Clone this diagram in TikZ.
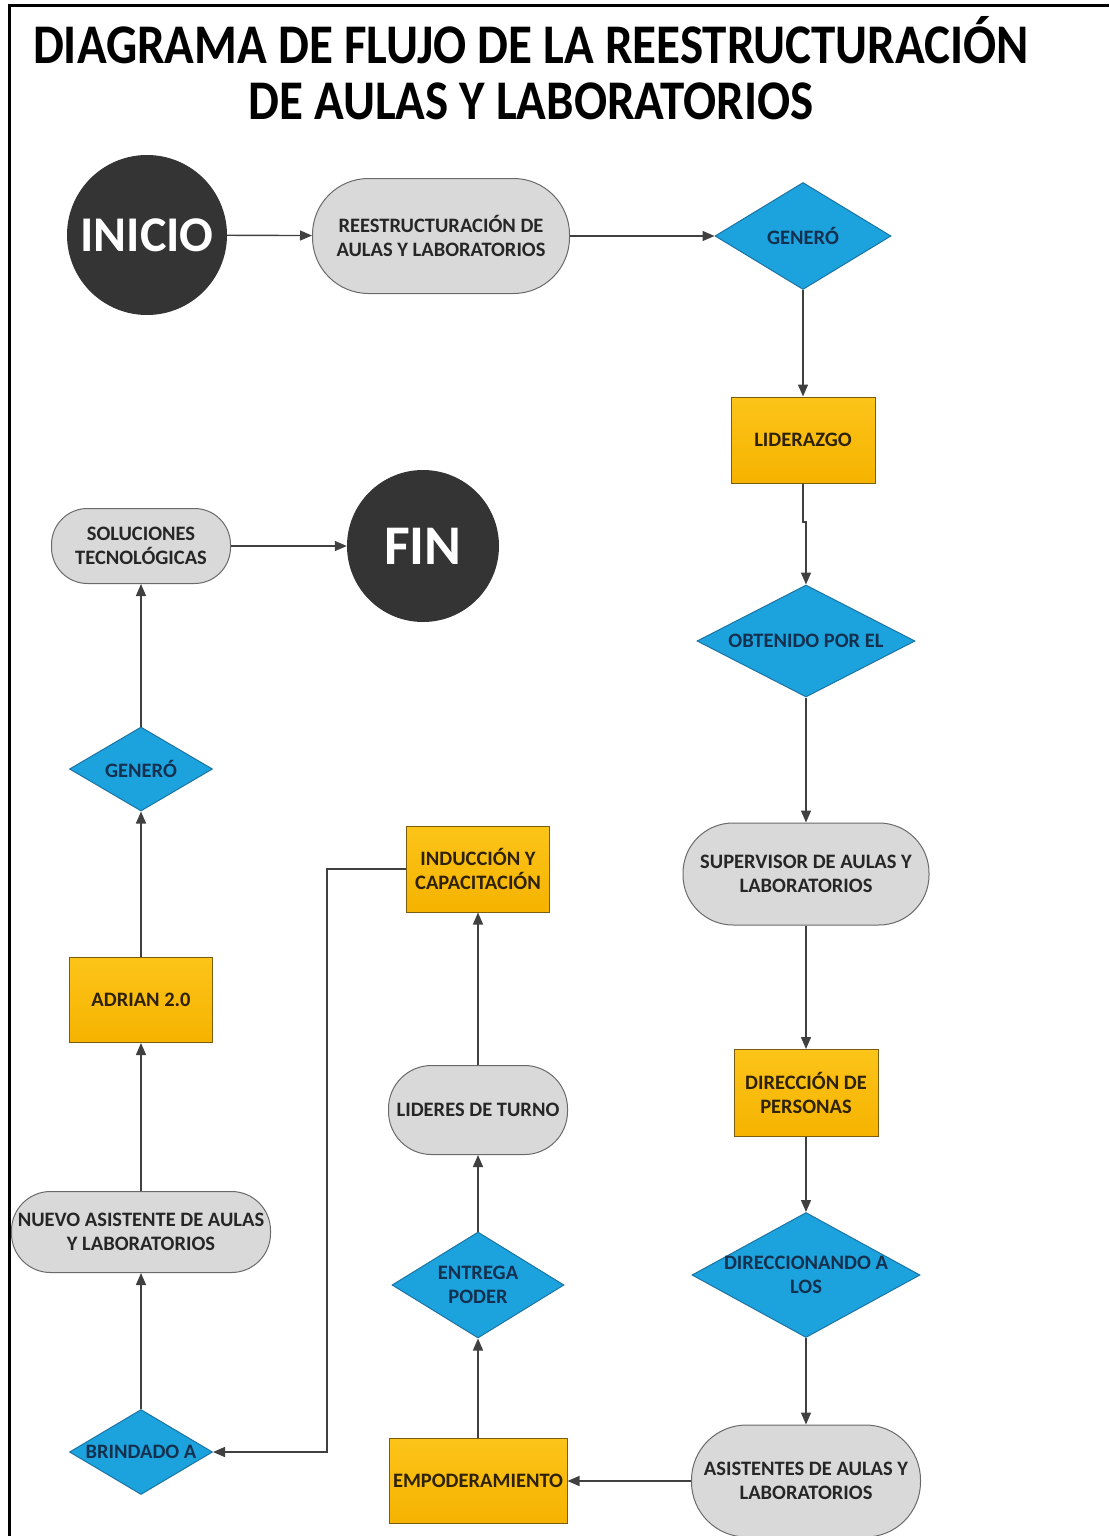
\documentclass[tikz,border=0pt]{standalone}
\usepackage{fontspec}
\setmainfont{Carlito}
\usetikzlibrary{shapes.geometric,arrows.meta}

\definecolor{termfill}{HTML}{343434}
\definecolor{pillfill}{HTML}{D9D9D9}
\definecolor{pillline}{HTML}{6A6A6A}
\definecolor{decfill}{HTML}{1CA2DD}
\definecolor{decline}{HTML}{1B74A3}
\definecolor{decfont}{HTML}{14304F}
\definecolor{procfill}{HTML}{F6B300}
\definecolor{proctop}{HTML}{FCC419}
\definecolor{procline}{HTML}{7A5C10}
\definecolor{procfont}{HTML}{2E2206}
\definecolor{txtdark}{HTML}{262626}
\definecolor{flow}{HTML}{404040}

\tikzset{
  labelfont/.style={font=\bfseries\fontsize{20.5}{24}\selectfont},
  terminal/.style={circle, fill=termfill, text=white, inner sep=0pt},
  pill/.style={rectangle, draw=pillline, line width=1pt, fill=pillfill,
    text=txtdark, align=center, inner sep=0pt, labelfont},
  procbox/.style={rectangle, draw=procline, line width=1pt,
    top color=proctop, bottom color=procfill, text=procfont,
    align=center, inner sep=0pt, labelfont},
  decision/.style={diamond, draw=decline, line width=1pt, fill=decfill,
    inner sep=0pt},
  dtext/.style={text=decfont, align=center, labelfont},
  flowline/.style={draw=flow, line width=1.4pt,
    -{Triangle[length=12pt,width=10pt]}}
}

\begin{document}
\begin{tikzpicture}[x=1pt,y=-1pt]
\useasboundingbox (0,0) rectangle (1109,1536);

% outer frame (top and left edges)
\draw[line width=3pt] (9,1536) -- (9,6) -- (1109,6);

% title, set in a horizontally condensed bold face
\node[font=\bfseries\fontsize{56}{56}\selectfont, align=center] (title) at (531,68)
  {\scalebox{0.875}[1]{DIAGRAMA DE FLUJO DE LA REESTRUCTURACIÓN}\\
   \scalebox{0.875}[1]{DE AULAS Y LABORATORIOS}};

% right column
\node[terminal, minimum size=160, font=\bfseries\fontsize{50}{50}\selectfont] (ini) at (147,235) {INICIO};
\node[pill, minimum width=257, minimum height=115, rounded corners=56] (reest) at (441,236)
  {REESTRUCTURACIÓN DE\\AULAS Y LABORATORIOS};
\node[decision, minimum width=176, minimum height=107,
  label={[dtext]center:GENERÓ}] (gen1) at (803,236) {};
\node[procbox, minimum width=144, minimum height=86] (lid) at (803,440) {LIDERAZGO};
\node[decision, minimum width=218, minimum height=112,
  label={[dtext]center:OBTENIDO POR EL}] (obt) at (806,641) {};
\node[pill, minimum width=246, minimum height=102, rounded corners=50] (sup) at (806,874)
  {SUPERVISOR DE AULAS Y\\LABORATORIOS};
\node[procbox, minimum width=144, minimum height=87] (dirp) at (806,1093)
  {DIRECCIÓN DE\\PERSONAS};
\node[decision, minimum width=228, minimum height=125,
  label={[dtext]center:DIRECCIONANDO A\\LOS}] (dirl) at (806,1275) {};
\node[pill, minimum width=229, minimum height=112, rounded corners=55] (asis) at (806,1481)
  {ASISTENTES DE AULAS Y\\LABORATORIOS};

% middle column
\node[procbox, minimum width=178, minimum height=85] (emp) at (478,1481) {EMPODERAMIENTO};
\node[decision, minimum width=172, minimum height=106,
  label={[dtext]center:ENTREGA\\PODER}] (ent) at (478,1285) {};
\node[pill, minimum width=179, minimum height=89, rounded corners=43] (lid2) at (478,1110)
  {LIDERES DE TURNO};
\node[procbox, minimum width=143, minimum height=86] (ind) at (478,869)
  {INDUCCIÓN Y\\CAPACITACIÓN};

% left column
\node[decision, minimum width=143, minimum height=85,
  label={[dtext]center:BRINDADO A}] (bri) at (141,1452) {};
\node[pill, minimum width=259, minimum height=81, rounded corners=39] (nue) at (141,1232)
  {NUEVO ASISTENTE DE AULAS\\Y LABORATORIOS};
\node[procbox, minimum width=143, minimum height=85] (adr) at (141,1000) {ADRIAN 2.0};
\node[decision, minimum width=143, minimum height=84,
  label={[dtext]center:GENERÓ}] (gen2) at (141,769) {};
\node[pill, minimum width=179, minimum height=75, rounded corners=36] (sol) at (141,546)
  {SOLUCIONES\\TECNOLÓGICAS};
\node[terminal, minimum size=152, font=\bfseries\fontsize{56}{56}\selectfont] (fin) at (423,546) {FIN};

% connectors
\coordinate (jog) at (803,522);
\coordinate (bend) at (327,869);
\draw[flowline] (ini) -- (reest);
\draw[flowline] (reest) -- (gen1);
\draw[flowline] (gen1) -- (lid);
\draw[flowline] (lid.south) -- (jog) -| (obt.north);
\draw[flowline] (obt) -- (sup);
\draw[flowline] (sup) -- (dirp);
\draw[flowline] (dirp) -- (dirl);
\draw[flowline] (dirl) -- (asis);
\draw[flowline] (asis.west) -- (emp.east);
\draw[flowline] (emp) -- (ent);
\draw[flowline] (ent) -- (lid2);
\draw[flowline] (lid2) -- (ind);
\draw[flowline] (ind.west) -- (bend) |- (bri.east);
\draw[flowline] (bri) -- (nue);
\draw[flowline] (nue) -- (adr);
\draw[flowline] (adr) -- (gen2);
\draw[flowline] (gen2) -- (sol);
\draw[flowline] (sol) -- (fin);
\end{tikzpicture}
\end{document}
